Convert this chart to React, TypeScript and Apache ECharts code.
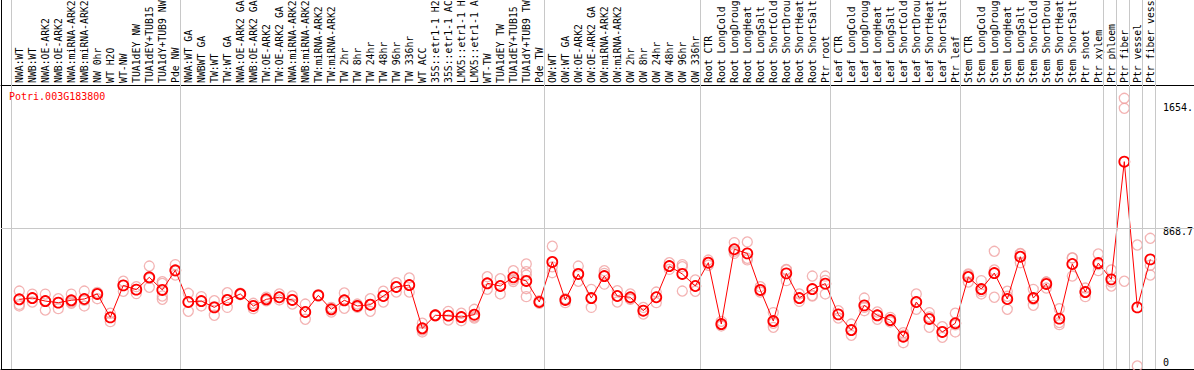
import React, { useEffect, useRef } from "react";
import * as echarts from "echarts";

// category names as they are visible in the reference (long ones are cut by the top edge)
const categories = [
  "NWA:WT", "NWB:WT", "NWA:OE-ARK2", "NWB:OE-ARK2", "NWA:miRNA-ARK2", "NWB:miRNA-ARK2",
  "NW 0hr", "WT H2O", "WT-NW", "TUA1dEY NW", "TUA1dEY+TUB15", "TUA1dY+TUB9 NW", "Pde NW",
  "NWA:WT GA", "NWBWT GA", "TW:WT", "TW:WT GA", "NWA:OE-ARK2 GA", "NWB:OE-ARK2 GA",
  "TW:OE-ARK2", "TW:OE-ARK2 GA", "NWA:miRNA-ARK2", "NWB:miRNA-ARK2", "TW:miRNA-ARK2",
  "TW:miRNA-ARK2", "TW 2hr", "TW 8hr", "TW 24hr", "TW 48hr", "TW 96hr", "TW 336hr",
  "WT ACC", "35S::etr1-1 H2", "35S::etr1-1 AC", "LMX5::etr1-1 H", "LMX5::etr1-1 A",
  "WT-TW", "TUA1dEY TW", "TUA1dEY+TUB15", "TUA1dY+TUB9 TW", "Pde TW",
  "OW:WT", "OW:WT GA", "OW:OE-ARK2", "OW:OE-ARK2 GA", "OW:miRNA-ARK2", "OW:miRNA-ARK2",
  "OW 2hr", "OW 8hr", "OW 24hr", "OW 48hr", "OW 96hr", "OW 336hr",
  "Root CTR", "Root LongCold", "Root LongDroug", "Root LongHeat", "Root LongSalt",
  "Root ShortCold", "Root ShortDrou", "Root ShortHeat", "Root ShortSalt", "Ptr root",
  "Leaf CTR", "Leaf LongCold", "Leaf LongDroug", "Leaf LongHeat", "Leaf LongSalt",
  "Leaf ShortCold", "Leaf ShortDrou", "Leaf ShortHeat", "Leaf ShortSalt", "Ptr leaf",
  "Stem CTR", "Stem LongCold", "Stem LongDroug", "Stem LongHeat", "Stem LongSalt",
  "Stem ShortCold", "Stem ShortDrou", "Stem ShortHeat", "Stem ShortSalt", "Ptr shoot",
  "Ptr xylem", "Ptr phloem", "Ptr fiber", "Ptr vessel", "Ptr fiber vess",
];

const means = [
  421, 429, 410, 400, 415, 423, 455, 307, 509, 482, 560, 480, 604,
  404, 410, 370, 417, 455, 379, 421, 434, 417, 341, 446, 358, 415, 379, 387, 442, 499, 511,
  238, 320, 318, 309, 324, 522, 505, 560, 537, 404,
  657, 417, 581, 429, 568, 442, 434, 349, 434, 631, 581, 505,
  652, 265, 737, 711, 480, 284, 585, 429, 486, 520,
  326, 227, 383, 320, 290, 185, 404, 297, 215, 270,
  562, 486, 587, 423, 690, 429, 518, 299, 644, 467, 650,
  547, 1290, 370, 673,
];

const replicates = [
  [473, 389, 379], [454, 429, 404], [454, 410, 353], [425, 400, 362], [454, 404, 396],
  [473, 415, 379], [465, 455, 425], [333, 307, 280], [535, 509, 472], [501, 482, 457],
  [631, 553, 497], [532, 521, 442, 421], [640, 600, 574],
  [459, 404, 345], [438, 410, 379], [412, 375, 320], [463, 417, 370], [459, 450],
  [396, 379, 362], [434, 421, 412], [455, 434, 417], [442, 417, 391], [391, 341, 295],
  [450, 442], [370, 358, 341], [461, 415, 364], [391, 379, 370], [425, 387, 345],
  [472, 442, 404], [526, 499, 467], [556, 511, 467],
  [270, 227, 215], [324, 316], [345, 318, 290], [333, 309, 286], [358, 311, 303],
  [564, 522, 484], [551, 505, 455], [602, 545, 533], [644, 595, 574, 488, 438], [412, 396],
  [756, 626, 589], [425, 400], [631, 581, 535], [484, 429, 370], [602, 585, 517],
  [475, 442, 404], [455, 425, 421], [370, 349, 328], [467, 434, 400], [652, 631, 610],
  [640, 627, 473], [543, 505, 472],
  [669, 652, 636], [282, 265, 253], [779, 724, 711], [783, 680, 670], [501, 480, 467],
  [337, 270, 244], [610, 606, 539], [455, 429, 408], [568, 442, 446], [568, 540, 455],
  [349, 326, 303], [265, 227, 194], [429, 370, 349], [341, 320, 295], [307, 290, 278],
  [210, 195, 147], [455, 404, 358], [337, 310, 244], [248, 215, 181], [333, 260, 215],
  [581, 575, 530], [539, 471, 455], [724, 606, 434], [472, 440, 358], [711, 707, 652],
  [484, 420, 383], [530, 530, 492], [362, 274, 261], [682, 682, 568], [492, 471, 438],
  [707, 640, 602],
  [606, 530, 505], [1690, 1627, 535], [764, 0], [806, 636, 574],
];

// separators drawn after these category indices
const groupEnds = [-1, 12, 40, 52, 62, 72, 83, 84, 85, 86, 87];

const yTickValues = [0, 868.7, 1654];
const yTickLabels = ["0", "868.7", "1654."];
const gridLineValue = 868.7;
const geneTitle = "Potri.003G183800";

const FONT = "DejaVu Sans Mono";

export default function App() {
  const ref = useRef<HTMLDivElement>(null);

  useEffect(() => {
    if (!ref.current) return;
    const chart = echarts.init(ref.current, null, { renderer: "svg" });

    const X_MIN = -1.4077;
    const X_MAX = 90.3615;

    const repData: number[][] = [];
    replicates.forEach((reps, i) => reps.forEach((v) => repData.push([i, v])));
    const meanData = means.map((v, i) => [i, v]);

    const blackLine = { show: true, onZero: false, lineStyle: { color: "#000", width: 1 } };

    const option: any = {
      animation: false,
      backgroundColor: "#ffffff",
      title: {
        text: geneTitle,
        left: 9,
        top: 91,
        padding: 0,
        textStyle: { color: "#ff0000", fontSize: 10, fontWeight: "normal", fontFamily: FONT },
      },
      grid: [
        { left: 1, right: 0, top: 85, height: 284, containLabel: false, outerBoundsMode: "none" },
        { left: 12.8, right: 37.2, top: 85, height: 284, containLabel: false, outerBoundsMode: "none" },
        { left: 1, right: 0, top: 0, height: 369, containLabel: false, outerBoundsMode: "none" },
      ],
      xAxis: [
        {
          gridIndex: 0,
          type: "value",
          min: X_MIN,
          max: X_MAX,
          position: "top",
          axisLine: blackLine,
          axisTick: { show: false },
          axisLabel: { show: false },
          splitLine: { show: false },
        },
        {
          gridIndex: 1,
          type: "category",
          data: categories,
          position: "top",
          boundaryGap: true,
          axisLine: { show: false, onZero: false },
          axisTick: { show: false },
          splitLine: { show: false },
          axisLabel: {
            interval: 0,
            rotate: -90,
            margin: 2,
            hideOverlap: false,
            fontFamily: FONT,
            fontSize: 9.8,
            color: "#000",
          },
        },
        {
          gridIndex: 2,
          type: "value",
          min: X_MIN,
          max: X_MAX,
          position: "bottom",
          axisLine: blackLine,
          axisTick: { show: false },
          axisLabel: { show: false },
          splitLine: { show: false },
        },
      ],
      yAxis: [
        {
          gridIndex: 0,
          type: "value",
          min: -18.9,
          max: 1774,
          position: "right",
          offset: -34,
          axisLine: { show: false, onZero: false },
          axisTick: { show: false },
          splitLine: { show: false },
          axisLabel: {
            customValues: yTickValues,
            margin: 3,
            fontFamily: FONT,
            fontSize: 10,
            color: "#000",
            formatter: (v: number) => {
              const idx = yTickValues.findIndex((t) => Math.abs(t - v) < 1e-6);
              const s = idx >= 0 ? yTickLabels[idx] : "";
              return v === 0 ? "{u|" + s + "}" : "{d|" + s + "}";
            },
            rich: {
              u: { padding: [0, 0, 7, 0], fontFamily: FONT, fontSize: 10, color: "#000" },
              d: { padding: [7, 0, 0, 0], fontFamily: FONT, fontSize: 10, color: "#000" },
            },
          },
        },
        { gridIndex: 1, type: "value", show: false, axisLine: { onZero: false } },
        {
          gridIndex: 2,
          type: "value",
          min: 0,
          max: 1,
          position: "left",
          axisLine: blackLine,
          axisTick: { show: false },
          axisLabel: { show: false },
          splitLine: { show: false },
        },
      ],
      series: [
        {
          name: "separators",
          type: "line",
          xAxisIndex: 2,
          yAxisIndex: 2,
          data: [],
          z: 1,
          silent: true,
          markLine: {
            silent: true,
            symbol: ["none", "none"],
            label: { show: false },
            lineStyle: { color: "#c8c8c8", type: "solid", width: 1 },
            data: groupEnds.map((j) => ({ xAxis: j + 0.385 })),
          },
        },
        {
          name: "replicates",
          type: "scatter",
          xAxisIndex: 0,
          yAxisIndex: 0,
          data: repData,
          symbol: "circle",
          symbolSize: 10,
          z: 2,
          itemStyle: { color: "rgba(0,0,0,0)", borderColor: "#f0a0a0", borderWidth: 1.3 },
        },
        {
          name: "mean",
          type: "line",
          xAxisIndex: 0,
          yAxisIndex: 0,
          data: meanData,
          symbol: "circle",
          symbolSize: 10,
          z: 3,
          lineStyle: { color: "#ff0000", width: 1 },
          itemStyle: { color: "rgba(0,0,0,0)", borderColor: "#ff0000", borderWidth: 1.8 },
          markLine: {
            silent: true,
            symbol: ["none", "none"],
            label: { show: false },
            lineStyle: { color: "#c8c8c8", type: "solid", width: 1 },
            data: [{ yAxis: gridLineValue }],
          },
        },
      ],
    };

    chart.setOption(option);
    return () => chart.dispose();
  }, []);

  return (
    <div
      ref={ref}
      style={{ position: "fixed", left: 0, top: 0, width: 1194, height: 370, background: "#fff" }}
    />
  );
}
